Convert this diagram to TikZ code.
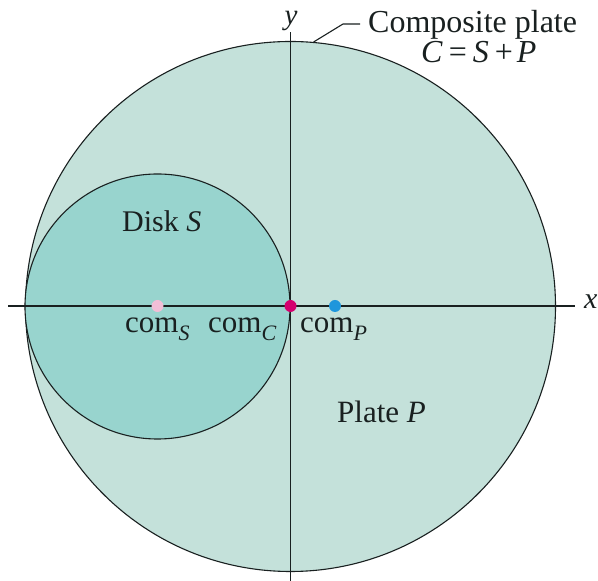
\documentclass[tikz,border=0pt]{standalone}
\usepackage{fontspec}
\setmainfont{Liberation Serif}
\definecolor{platefill}{RGB}{196,225,218}
\definecolor{diskfill}{RGB}{152,212,206}
\definecolor{inkc}{RGB}{25,32,32}
\definecolor{dotS}{RGB}{242,190,215}
\definecolor{dotC}{RGB}{212,0,110}
\definecolor{dotP}{RGB}{30,150,220}
\newcommand{\subsc}[1]{\raisebox{-8pt}{\fontsize{22}{22}\selectfont\itshape #1}}
\begin{document}
\begin{tikzpicture}[x=1pt,y=1pt,
  ink/.style={draw=inkc, line width=1.3pt},
  lbl/.style={inner sep=0pt, text=inkc, font=\fontsize{30}{34}\selectfont},
  comlbl/.style={inner sep=0pt, text=inkc, font=\fontsize{31}{34}\selectfont},
  dotmark/.style={circle, inner sep=0pt, minimum size=12pt}]
\useasboundingbox (0,0) rectangle (598,581);
% plate and disk
\node[circle, inner sep=0pt, minimum size=530pt, fill=platefill, draw=inkc, line width=1.1pt] (plate) at (290.5,274.5) {};
\node[circle, inner sep=0pt, minimum size=265pt, fill=diskfill, draw=inkc, line width=1.1pt] (disk) at (157.5,274.5) {};
% axes
\coordinate (xl) at (8,275);
\coordinate (xr) at (575,275);
\coordinate (yt) at (290.5,549);
\coordinate (yb) at (290.5,0);
\draw[ink] (xl) -- (xr);
\draw[ink] (yb) -- (yt);
\node[lbl, anchor=west, font=\fontsize{30}{34}\selectfont\itshape] (xlab) at (584,279) {x};
\node[lbl, anchor=base, font=\fontsize{29}{34}\selectfont\itshape] (ylab) at (291,556) {y};
% centres of mass
\node[dotmark, fill=dotS] (comS) at (157.5,275) {};
\node[dotmark, fill=dotC] (comC) at (290.5,275) {};
\node[dotmark, fill=dotP] (comP) at (335,275) {};
\node[comlbl, anchor=base west] (lS) at (125,248) {com\subsc{S}};
\node[comlbl, anchor=base west] (lC) at (208,248) {com\subsc{C}};
\node[comlbl, anchor=base west] (lP) at (300,248) {com\subsc{P}};
% region labels
\node[lbl, anchor=base west] (diskS) at (122,349) {Disk \textit{S}};
\node[lbl, anchor=base west, font=\fontsize{31}{34}\selectfont] (plateP) at (337,158) {Plate \textit{P}};
% composite label
\node[lbl, anchor=base west, font=\fontsize{32}{36}\selectfont] (comp) at (368,548) {Composite plate};
\node[lbl, anchor=base west, font=\fontsize{32}{36}\selectfont] (eq) at (421,518) {\textit{C}\hspace{6pt}=\hspace{6pt}\textit{S}\hspace{6pt}+\hspace{4pt}\textit{P}};
\coordinate (bend) at (343,557);
\coordinate (lend) at (360,557);
\draw[inkc, line width=1.1pt] (plate.85.1) -- (bend) -- (lend);
\end{tikzpicture}
\end{document}
